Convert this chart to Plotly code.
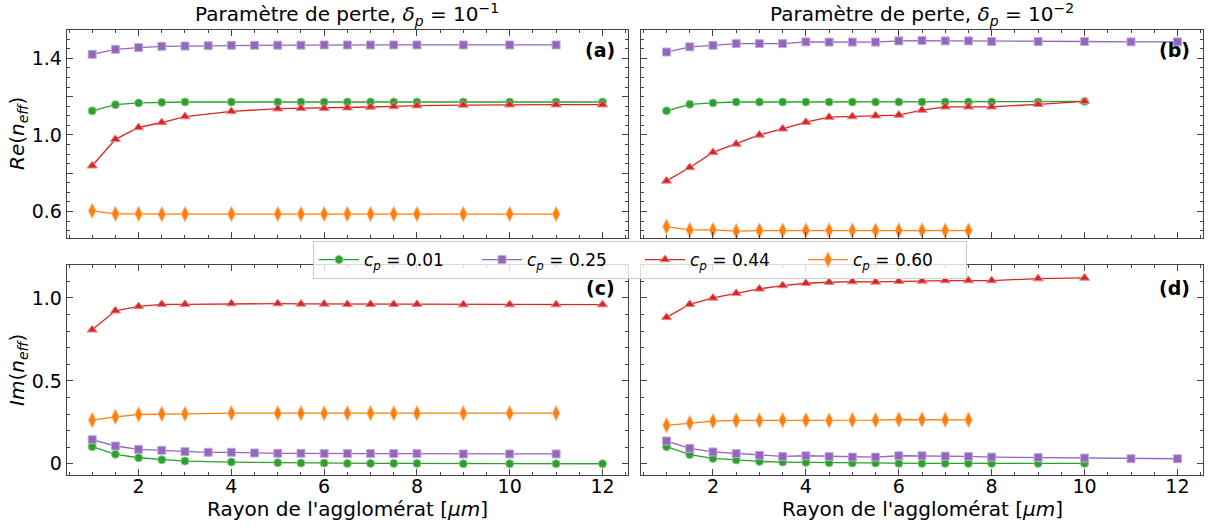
import plotly.graph_objects as go

# ---------------- data ----------------
# x values (cluster radius, µm)
x_left_main = [1, 1.5, 2, 2.5, 3, 4, 5, 5.5, 6, 6.5, 7, 7.5, 8, 9, 10, 11, 12]
x_left_purple = [1, 1.5, 2, 2.5, 3, 3.5, 4, 4.5, 5, 5.5, 6, 6.5, 7, 7.5, 8, 9, 10, 11]
x_left_orange = [1, 1.5, 2, 2.5, 3, 4, 5, 5.5, 6, 6.5, 7, 7.5, 8, 9, 10, 11]
x_right_purple = [1, 1.5, 2, 2.5, 3, 3.5, 4, 4.5, 5, 5.5, 6, 6.5, 7, 7.5, 8, 9, 10, 11, 12]
x_right_main = [1, 1.5, 2, 2.5, 3, 3.5, 4, 4.5, 5, 5.5, 6, 6.5, 7, 7.5, 8, 9, 10]
x_right_orange = [1, 1.5, 2, 2.5, 3, 3.5, 4, 4.5, 5, 5.5, 6, 6.5, 7, 7.5]

# (a) Re(n_eff), delta_p = 1e-1
re_a_green = [1.126, 1.158, 1.167, 1.170, 1.172, 1.172, 1.172, 1.172, 1.172, 1.172, 1.172, 1.172, 1.172, 1.172, 1.172, 1.172, 1.172]
re_a_purple = [1.421, 1.447, 1.456, 1.463, 1.464, 1.466, 1.468, 1.468, 1.469, 1.469, 1.470, 1.470, 1.470, 1.470, 1.470, 1.470, 1.470, 1.470]
re_a_red = [0.839, 0.977, 1.039, 1.065, 1.096, 1.123, 1.137, 1.139, 1.139, 1.142, 1.146, 1.149, 1.153, 1.156, 1.158, 1.158, 1.158]
re_a_orange = [0.604, 0.588, 0.588, 0.586, 0.587, 0.587, 0.587, 0.587, 0.587, 0.587, 0.587, 0.587, 0.587, 0.587, 0.587, 0.587]

# (b) Re(n_eff), delta_p = 1e-2
re_b_green = [1.126, 1.160, 1.167, 1.172, 1.172, 1.172, 1.172, 1.172, 1.172, 1.172, 1.172, 1.172, 1.172, 1.172, 1.172, 1.172, 1.175]
re_b_purple = [1.433, 1.460, 1.468, 1.477, 1.477, 1.477, 1.486, 1.485, 1.485, 1.485, 1.491, 1.493, 1.491, 1.491, 1.488, 1.488, 1.488, 1.486, 1.486]
re_b_red = [0.760, 0.830, 0.909, 0.953, 1.000, 1.032, 1.067, 1.093, 1.096, 1.100, 1.104, 1.130, 1.147, 1.147, 1.147, 1.160, 1.175]
re_b_orange = [0.521, 0.504, 0.504, 0.498, 0.501, 0.501, 0.501, 0.501, 0.501, 0.501, 0.501, 0.501, 0.501, 0.501]

# (c) Im(n_eff), delta_p = 1e-1
im_c_green = [0.103, 0.057, 0.036, 0.024, 0.016, 0.010, 0.006, 0.004, 0.004, 0.002, 0.002, 0.002, 0.002, 0.000, 0.000, 0.000, 0.000]
im_c_purple = [0.145, 0.107, 0.087, 0.081, 0.073, 0.069, 0.069, 0.065, 0.063, 0.063, 0.061, 0.061, 0.061, 0.061, 0.061, 0.059, 0.059, 0.059]
im_c_red = [0.808, 0.923, 0.949, 0.962, 0.962, 0.966, 0.966, 0.964, 0.964, 0.962, 0.962, 0.962, 0.962, 0.960, 0.960, 0.960, 0.960]
im_c_orange = [0.263, 0.283, 0.297, 0.301, 0.301, 0.305, 0.305, 0.305, 0.305, 0.305, 0.305, 0.305, 0.305, 0.305, 0.305, 0.305]

# (d) Im(n_eff), delta_p = 1e-2
im_d_green = [0.103, 0.055, 0.032, 0.022, 0.014, 0.010, 0.008, 0.006, 0.004, 0.004, 0.002, 0.002, 0.002, 0.002, 0.002, 0.002, 0.002]
im_d_purple = [0.137, 0.093, 0.071, 0.061, 0.051, 0.044, 0.048, 0.044, 0.040, 0.040, 0.048, 0.048, 0.046, 0.044, 0.040, 0.038, 0.034, 0.030, 0.030]
im_d_red = [0.883, 0.962, 1.000, 1.028, 1.055, 1.075, 1.089, 1.095, 1.099, 1.097, 1.101, 1.103, 1.105, 1.105, 1.105, 1.117, 1.121]
im_d_orange = [0.232, 0.246, 0.257, 0.261, 0.261, 0.263, 0.263, 0.261, 0.263, 0.263, 0.267, 0.267, 0.265, 0.265]

series_names = ["<i>c<sub>p</sub></i> = 0.01", "<i>c<sub>p</sub></i> = 0.25",
                "<i>c<sub>p</sub></i> = 0.44", "<i>c<sub>p</sub></i> = 0.60"]
panel_labels = ["(a)", "(b)", "(c)", "(d)"]
titles = ["Paramètre de perte, <i>δ<sub>p</sub></i> = 10<sup>−1</sup>",
          "Paramètre de perte, <i>δ<sub>p</sub></i> = 10<sup>−2</sup>"]
xlabel = "Rayon de l'agglomérat [<i>μm</i>]"
ylabels = ["<i>Re</i>(<i>n<sub>eff</sub></i>)", "<i>Im</i>(<i>n<sub>eff</sub></i>)"]
x_tickvals = [2, 4, 6, 8, 10, 12]
re_tickvals = [0.6, 0.8, 1.0, 1.2, 1.4]
re_ticktext = ["0.6", "", "1.0", "", "1.4"]
im_tickvals = [0, 0.5, 1.0]
im_ticktext = ["0", "0.5", "1.0"]

# ---------------- styling ----------------
colors = ["#2ca02c", "#9467bd", "#d62728", "#ff7f0e"]
edge = ["rgba(130,200,130,1)", "rgba(190,170,220,1)", "rgba(235,140,140,1)", "rgba(255,190,140,1)"]
symbols = ["circle", "square", "triangle-up", "diamond-tall"]
msizes = [8, 8, 9, 11]
FONT = "DejaVu Sans"
W, H = 1208, 527
AX = "#444444"


def px(x):
    return x / W


def py(y):
    return 1 - y / H


col_dom = [[px(66.7), px(628)], [px(641), px(1203)]]
row_dom = [[py(238), py(30)], [py(475), py(265)]]

panels = [
    (0, 0, [(x_left_main, re_a_green), (x_left_purple, re_a_purple), (x_left_main, re_a_red), (x_left_orange, re_a_orange)]),
    (0, 1, [(x_right_main, re_b_green), (x_right_purple, re_b_purple), (x_right_main, re_b_red), (x_right_orange, re_b_orange)]),
    (1, 0, [(x_left_main, im_c_green), (x_left_purple, im_c_purple), (x_left_main, im_c_red), (x_left_orange, im_c_orange)]),
    (1, 1, [(x_right_main, im_d_green), (x_right_purple, im_d_purple), (x_right_main, im_d_red), (x_right_orange, im_d_orange)]),
]

fig = go.Figure()
layout = {}
annotations = []
for p, (r, c, data) in enumerate(panels):
    idx = p + 1
    xa = "x" if idx == 1 else f"x{idx}"
    ya = "y" if idx == 1 else f"y{idx}"
    for s, (xs, ys) in enumerate(data):
        fig.add_trace(go.Scatter(
            x=xs, y=ys, xaxis=xa, yaxis=ya, mode="lines+markers",
            name=series_names[s], legendgroup=str(s), showlegend=(p == 0),
            line=dict(color=colors[s], width=1.3),
            marker=dict(symbol=symbols[s], size=msizes[s], color=colors[s],
                        line=dict(color=edge[s], width=1)),
        ))
    xkey = "xaxis" if idx == 1 else f"xaxis{idx}"
    ykey = "yaxis" if idx == 1 else f"yaxis{idx}"
    layout[xkey] = dict(
        domain=col_dom[c], anchor=ya, range=[0.45, 12.55],
        tickvals=x_tickvals, showticklabels=(r == 1),
        ticks="inside", ticklen=6, tickwidth=1, tickcolor=AX,
        showline=True, linecolor=AX, linewidth=1, mirror="allticks",
        showgrid=False, zeroline=False,
        tickfont=dict(family=FONT, size=19, color="#000"),
        ticklabelstandoff=-6,
        minor=dict(dtick=0.5, tick0=0, ticks="inside", ticklen=3, tickwidth=1, tickcolor=AX, showgrid=False),
    )
    if r == 0:
        yr, tv, tt, mdt = [0.462, 1.548], re_tickvals, re_ticktext, 0.05
    else:
        yr, tv, tt, mdt = [-0.068, 1.199], im_tickvals, im_ticktext, 0.1
    layout[ykey] = dict(
        domain=row_dom[r], anchor=xa, range=yr,
        tickvals=tv, ticktext=tt, showticklabels=(c == 0),
        ticks="inside", ticklen=6, tickwidth=1, tickcolor=AX,
        showline=True, linecolor=AX, linewidth=1, mirror="allticks",
        showgrid=False, zeroline=False,
        tickfont=dict(family=FONT, size=19, color="#000"),
        ticklabelstandoff=0,
        minor=dict(dtick=mdt, tick0=0, ticks="inside", ticklen=3, tickwidth=1, tickcolor=AX, showgrid=False),
    )
    annotations.append(dict(
        text=f"<b>{panel_labels[p]}</b>", xref=f"{xa} domain", yref=f"{ya} domain",
        x=0.98, y=(0.904 if r == 0 else 0.89), xanchor="right", yanchor="middle",
        showarrow=False, font=dict(family=FONT, size=19, color="#000"),
    ))

for c in range(2):
    cx = (col_dom[c][0] + col_dom[c][1]) / 2
    annotations.append(dict(
        text=titles[c], xref="paper", yref="paper", x=cx, y=py(14),
        xanchor="center", yanchor="middle", showarrow=False,
        font=dict(family=FONT, size=20, color="#000"),
    ))
    annotations.append(dict(
        text=xlabel, xref="paper", yref="paper", x=cx, y=py(509),
        xanchor="center", yanchor="middle", showarrow=False,
        font=dict(family=FONT, size=20, color="#000"),
    ))
for r in range(2):
    cy = (row_dom[r][0] + row_dom[r][1]) / 2
    annotations.append(dict(
        text=ylabels[r], xref="paper", yref="paper", x=px(18), y=cy,
        xanchor="center", yanchor="middle", textangle=-90, showarrow=False,
        font=dict(family=FONT, size=20, color="#000"),
    ))

fig.update_layout(
    **layout,
    annotations=annotations,
    width=W, height=H,
    margin=dict(l=0, r=0, t=0, b=0),
    paper_bgcolor="white", plot_bgcolor="white",
    font=dict(family=FONT, size=16, color="#000"),
    showlegend=True,
    legend=dict(
        orientation="h", x=px(313), y=py(241), xanchor="left", yanchor="top",
        bgcolor="rgba(255,255,255,0.8)", bordercolor="#cccccc", borderwidth=1,
        font=dict(family=FONT, size=17, color="#000"),
        itemwidth=40, entrywidth=108, entrywidthmode="pixels",
        traceorder="normal",
    ),
)

# remove the default 8px page margin so the figure sits at the window's top-left corner
fig.write_html("out.html", config={"displayModeBar": False},
               post_script="document.body.style.margin='0px';")
